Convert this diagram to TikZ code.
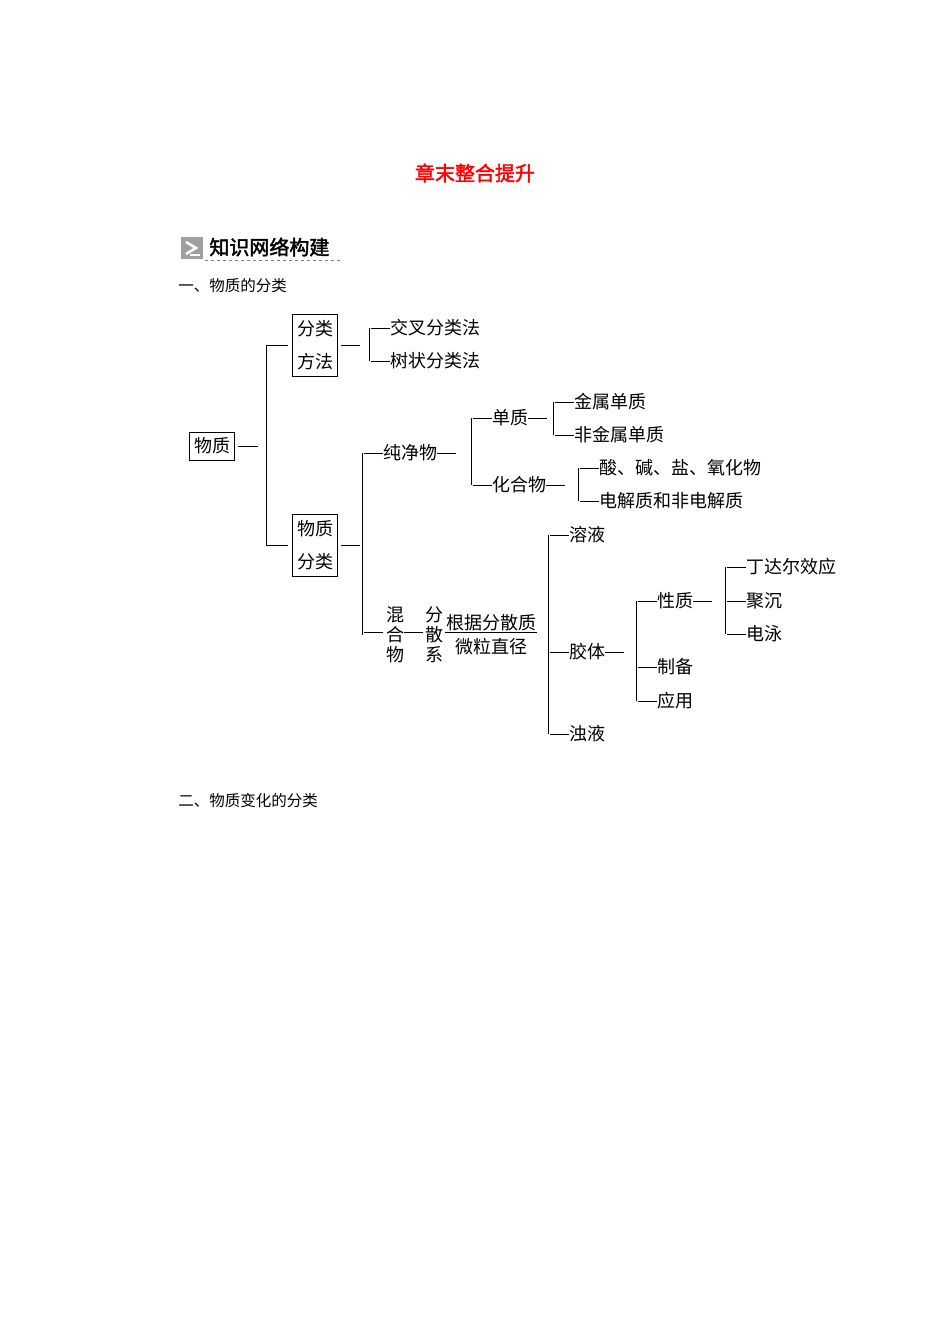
\documentclass[tikz,border=0pt]{standalone}
\usepackage{fontspec}
\setmainfont{Noto Sans CJK SC}
\newfontfamily\cjkb[FakeBold=2]{Noto Sans CJK SC}
\newcommand{\D}{\rule[0.33em]{1.05em}{0.7pt}}
\begin{document}
\begin{tikzpicture}[x=1pt,y=-1pt,line width=0.8pt,
  t/.style={anchor=west,inner sep=0pt,font=\fontsize{18}{20}\selectfont},
  bx/.style={draw,line width=0.7pt,inner sep=3pt,align=center,font=\fontsize{18}{33}\selectfont},
  vt/.style={inner sep=0pt,align=center,font=\fontsize{18}{20}\selectfont}]
\useasboundingbox (0,0) rectangle (950,1344);
\node[text=red,font=\cjkb\fontsize{20}{22}\selectfont] (title) at (475,173) {章末整合提升};
% header
\node[fill=gray!75,minimum width=22pt,minimum height=22pt,inner sep=0pt] (ico) at (192,248) {};
\draw[white,line width=2.5pt] ([shift={(-6,-6)}]ico.center) -- ([shift={(4,0)}]ico.center) -- ([shift={(-6,6)}]ico.center);
\draw[white,line width=2.5pt] ([shift={(-2,7)}]ico.center) -- ([shift={(8,7)}]ico.center);
\node[anchor=west,inner sep=0pt,font=\cjkb\fontsize{20}{21}\selectfont] (hd) at (209,247) {知识网络构建};
\draw[gray,dashed,line width=0.7pt] (205,260) -- (343,260);
\node[t,font=\fontsize{15.5}{17}\selectfont] (s1) at (178,286) {一、物质的分类};
\node[t,font=\fontsize{15.5}{17}\selectfont] (s2) at (178,801) {二、物质变化的分类};
% root
\node[bx,minimum width=45pt,minimum height=28pt,inner sep=1pt] (wz) at (212,446) {物质};
\draw (wz.east) ++(3,0) -- ++(20,0);
\node[bx,inner sep=2pt,minimum width=45pt,minimum height=62pt] (ff) at (315,345) {分类\\方法};
\node[bx,inner sep=2pt,minimum width=45pt,minimum height=62pt] (fl) at (315,545) {物质\\分类};
\coordinate (a1) at (266,345); \coordinate (a2) at (266,545);
\draw (a1) -- (a2);
\draw (a1) -- ++(22,0); \draw (a2) -- ++(22,0);
\draw (ff.east) ++(3,0) -- ++(19,0);
\draw (fl.east) ++(3,0) -- ++(19,0);
% methods
\node[t] (jc) at (371,328) {\D 交叉分类法};
\node[t] (sz) at (371,361) {\D 树状分类法};
\draw ([xshift=-2pt]jc.west) -- ([xshift=-2pt]sz.west);
% pure / mixture
\node[t] (cj) at (364,453) {\D 纯净物\D};
\node[t] (hh1) at (364,635) {\D};
\draw ([xshift=-2pt]cj.west) -- ([xshift=-2pt]hh1.west);
\node[vt] (hhw) at (395,635) {混\\合\\物};
\node[t] (hh2) at (404,635) {\D};
\node[vt] (fsx) at (434,635) {分\\散\\系};
\node[inner sep=1pt,font=\fontsize{18}{20}\selectfont] (gj1) at (491,623) {根据分散质};
\node[inner sep=1pt,font=\fontsize{18}{20}\selectfont] (gj2) at (491,647) {微粒直径};
\draw[line width=0.7pt] (gj1.south west) -- (gj1.south east);
% pure branches
\node[t] (dz) at (473,418) {\D 单质\D};
\node[t] (hhw2) at (473,485) {\D 化合物\D};
\draw ([xshift=-2pt]dz.west) -- ([xshift=-2pt]hhw2.west);
\node[t] (js) at (555,402) {\D 金属单质};
\node[t] (fjs) at (555,435) {\D 非金属单质};
\draw ([xshift=-2pt]js.west) -- ([xshift=-2pt]fjs.west);
\node[t] (sj) at (580,468) {\D 酸、碱、盐、氧化物};
\node[t] (dj) at (580,501) {\D 电解质和非电解质};
\draw ([xshift=-2pt]sj.west) -- ([xshift=-2pt]dj.west);
% dispersions
\node[t] (ry) at (550,535) {\D 溶液};
\node[t] (jt) at (550,652) {\D 胶体\D};
\node[t] (zy) at (550,734) {\D 浊液};
\draw ([xshift=-2pt]ry.west) -- ([xshift=-2pt]zy.west);
\node[t] (xz) at (638,601) {\D 性质\D};
\node[t] (zb) at (638,667) {\D 制备};
\node[t] (yy) at (638,701) {\D 应用};
\draw ([xshift=-2pt]xz.west) -- ([xshift=-2pt]yy.west);
\node[t] (dd) at (727,567) {\D 丁达尔效应};
\node[t] (jc2) at (727,601) {\D 聚沉};
\node[t] (dy) at (727,634) {\D 电泳};
\draw ([xshift=-2pt]dd.west) -- ([xshift=-2pt]dy.west);
\end{tikzpicture}
\end{document}
